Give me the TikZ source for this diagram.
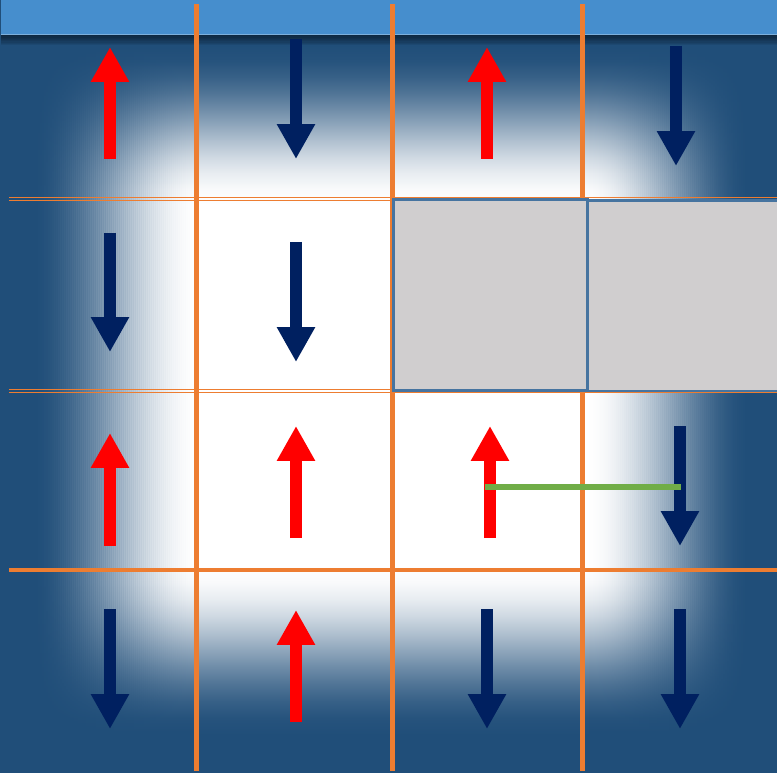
\documentclass[tikz,border=0pt]{standalone}
\usetikzlibrary{arrows.meta}
\definecolor{deepblue}{RGB}{32,78,121}
\definecolor{barblue}{RGB}{70,142,205}
\definecolor{gridorange}{RGB}{237,125,49}
\definecolor{boxgrey}{RGB}{208,206,207}
\definecolor{boxedge}{RGB}{70,116,160}
\definecolor{spinred}{RGB}{255,0,0}
\definecolor{spinnavy}{RGB}{0,32,96}
\definecolor{linkgreen}{RGB}{112,173,71}
% vertical profile of the glow (top and bottom ramps)
\pgfdeclareverticalshading{glowv}{100bp}{color(0bp)=(deepblue); color(27.46bp)=(deepblue);
  color(28.56bp)=(white!2.8!deepblue); color(29.66bp)=(white!10.4!deepblue);
  color(30.76bp)=(white!21.6!deepblue); color(31.86bp)=(white!35.2!deepblue);
  color(32.96bp)=(white!50!deepblue); color(34.06bp)=(white!64.8!deepblue);
  color(35.16bp)=(white!78.4!deepblue); color(36.25bp)=(white!89.6!deepblue);
  color(37.35bp)=(white!97.2!deepblue); color(38.45bp)=(white);
  color(61.74bp)=(white); color(62.78bp)=(white!97.2!deepblue);
  color(63.81bp)=(white!89.6!deepblue); color(64.85bp)=(white!78.4!deepblue);
  color(65.88bp)=(white!64.8!deepblue); color(66.91bp)=(white!50!deepblue);
  color(67.95bp)=(white!35.2!deepblue); color(68.98bp)=(white!21.6!deepblue);
  color(70.02bp)=(white!10.4!deepblue); color(71.05bp)=(white!2.8!deepblue);
  color(72.09bp)=(deepblue); color(100bp)=(deepblue)}
\tikzset{
  gridline/.style={draw=gridorange, line width=2.8pt},
  thinline/.style={draw=gridorange, line width=0.6pt},
  blocked/.style={draw=boxedge, line width=1.4pt, fill=boxgrey},
  spinup/.style={draw=spinred, line width=6.8pt, -{Triangle[width=20.4pt,length=19.8pt]}},
  spindown/.style={draw=spinnavy, line width=6.8pt, -{Triangle[width=20.4pt,length=19.8pt]}},
  bond/.style={draw=linkgreen, line width=3.6pt}
}

\begin{document}
\begin{tikzpicture}[x=0.02cm, y=-0.02cm]
    \useasboundingbox (0,0) rectangle (777,773);
    \clip (0,0) rectangle (777,773);
    \fill[deepblue] (0,0) rectangle (777,773);
    % soft white glow: strips of the vertical profile, faded left and right
    \foreach \x in {30,32,...,198}{
      \pgfmathsetmacro\t{(\x+1-30)/170}
      \pgfmathsetmacro\op{3*\t*\t-2*\t*\t*\t}
      \shade[shading=glowv, opacity=\op] (\x,0) rectangle ({\x+2},773);
    }
    \shade[shading=glowv] (200,0) rectangle (585,773);
    \foreach \x in {585,587,...,751}{
      \pgfmathsetmacro\t{(752-\x-1)/167}
      \pgfmathsetmacro\op{3*\t*\t-2*\t*\t*\t}
      \shade[shading=glowv, opacity=\op] (\x,0) rectangle ({\x+2},773);
    }
    % top bar and its shadow
    \foreach \i in {1,...,8} \fill[black, opacity=0.07] (1,35) rectangle (777,{35+\i*1.3});
    \fill[barblue] (1,0) rectangle (777,35);
    \draw[barblue!70!white, line width=0.5pt] (1,34.5) -- (777,34.5);
    % grid
    \foreach \y in {197.3,200.3,389.3,392.3} \draw[thinline] (9,\y) -- (777,\y);
    \draw[gridline] (9,570) -- (777,570);
    \foreach \x in {196.5,392.5,582.5} \draw[gridline] (\x,4) -- (\x,771);
    % blocked cells
    \draw[blocked] (393.5,199.5) rectangle (587.5,390.5);
    \draw[blocked] (587.5,200.5) rectangle (790,391);
    % spins
    \foreach \x/\a/\b in {110/159/47, 487/159/47, 110/546/433, 296/538/426, 490/538/426, 296/722/610}
      \draw[spinup] (\x,\a) -- (\x,\b);
    \foreach \x/\a/\b in {296/39/159, 676/46/166, 110/233/352, 296/242/362, 680/426/546, 110/609/729, 487/609/729, 680/609/729}
      \draw[spindown] (\x,\a) -- (\x,\b);
    % bond
    \coordinate (bondL) at (485,487);
    \coordinate (bondR) at (681,487);
    \draw[bond] (bondL) -- (bondR);
\end{tikzpicture}
\end{document}
